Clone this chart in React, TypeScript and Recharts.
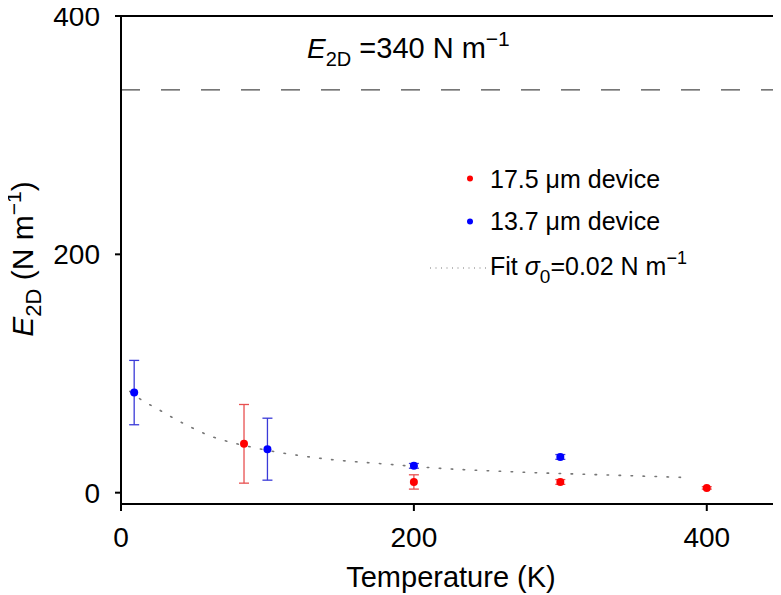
import React from "react"
import {
  ComposedChart,
  Scatter,
  Line,
  XAxis,
  YAxis,
  ErrorBar,
  ReferenceLine,
  Label,
} from "recharts"

const tempRed = [84, 200, 300, 400]
const e2dRed = [41, 9, 9, 4]
const errRed = [33, 6, 2, 1]

const tempBlue = [9, 100, 200, 300]
const e2dBlue = [84, 36.5, 22.5, 30]
const errBlue = [27, 26, 2, 2]

const fitTemp = [6, 15, 24, 33, 42, 51, 60, 70, 92, 107, 120, 135, 186, 211, 268, 341, 389]
const fitE2D = [85, 77, 71, 64.5, 58.5, 53, 48, 44, 37.5, 34, 31.5, 29, 23.5, 21, 17.5, 14.5, 12.6]

const xTicks = [0, 200, 400]
const yTicks = [0, 200, 400]
const theoryE2D = 338

const redData = tempRed.map((t, i) => ({ t, e: e2dRed[i], err: errRed[i] }))
const blueData = tempBlue.map((t, i) => ({ t, e: e2dBlue[i], err: errBlue[i] }))
const fitData = fitTemp.map((t, i) => ({ t, e: fitE2D[i] }))

const FONT = "'Liberation Sans', Arial, Helvetica, sans-serif"

const dot = (color: string) => (p: any) => <circle cx={p.cx} cy={p.cy} r={4} fill={color} />

// legend drawn as an overlay so it does not take room from the plot
function LegendBox() {
  return (
    <svg
      width={330}
      height={135}
      style={{ position: "absolute", left: 420, top: 155, fontFamily: FONT, overflow: "visible" }}
    >
      <circle cx={50} cy={23.5} r={3} fill="#ff0000" />
      <text x={70} y={33} fontSize={25} fill="#000">17.5 μm device</text>
      <circle cx={50} cy={66.5} r={3} fill="#0000ff" />
      <text x={70} y={75} fontSize={25} fill="#000">13.7 μm device</text>
      <line x1={10} x2={66} y1={113} y2={113} stroke="#777" strokeWidth={1.2} strokeDasharray="1 4.5" />
      <text x={70} y={120} fontSize={25} fill="#000">
        Fit <tspan fontStyle="italic">σ</tspan>
        <tspan dy={8} fontSize={19}>0</tspan>
        <tspan dy={-8}>=0.02 N m</tspan>
        <tspan dy={-11} fontSize={18}>−1</tspan>
      </text>
    </svg>
  )
}

export default function App() {
  return (
    <div style={{ position: "relative", marginLeft: -8, marginTop: -8, background: "#fff", width: 781, height: 595 }}>
      <ComposedChart
        width={781}
        height={595}
        margin={{ top: 16, right: 1, bottom: 0, left: 0 }}
        style={{ fontFamily: FONT }}
      >
        <XAxis
          type="number"
          dataKey="t"
          domain={[0, 450]}
          ticks={xTicks}
          height={91}
          tickSize={7}
          tickMargin={16}
          axisLine={{ stroke: "#000", strokeWidth: 2 }}
          tickLine={{ stroke: "#000", strokeWidth: 2 }}
          tick={{ fontSize: 28, fill: "#000" }}
          allowDataOverflow
        >
          <Label
            content={() => (
              <text x={451} y={587} textAnchor="middle" fontSize={29} fill="#000">
                Temperature (K)
              </text>
            )}
          />
        </XAxis>
        <YAxis
          type="number"
          dataKey="e"
          domain={[-9.5, 400]}
          ticks={yTicks}
          width={121}
          tickSize={6}
          tickMargin={15}
          axisLine={{ stroke: "#000", strokeWidth: 2 }}
          tickLine={{ stroke: "#000", strokeWidth: 2 }}
          tick={{ fontSize: 28, fill: "#000" }}
          allowDataOverflow
        >
          <Label
            content={() => (
              <text
                x={33}
                y={259}
                transform="rotate(-90 33 259)"
                textAnchor="middle"
                fontSize={30}
                fill="#000"
              >
                <tspan fontStyle="italic">E</tspan>
                <tspan dy={8} fontSize={22}>2D</tspan>
                <tspan dy={-8}> (N m</tspan>
                <tspan dy={-12} fontSize={21}>−1</tspan>
                <tspan dy={12}>)</tspan>
              </text>
            )}
          />
        </YAxis>
        <ReferenceLine y={400} stroke="#000" strokeWidth={2} />
        <ReferenceLine x={450} stroke="#000" strokeWidth={2} />
        <ReferenceLine
          y={theoryE2D}
          stroke="#4a4a4a"
          strokeWidth={1.2}
          strokeDasharray="19 21"
          label={{
            content: () => (
              <text x={307} y={58} fontSize={28} fill="#000">
                <tspan fontStyle="italic">E</tspan>
                <tspan dy={8} fontSize={20}>2D</tspan>
                <tspan dy={-8} fontSize={29}> =340 N m</tspan>
                <tspan dy={-12} fontSize={21}>−1</tspan>
              </text>
            ),
          }}
        />
        <Line
          data={fitData}
          dataKey="e"
          type="monotone"
          stroke="#777"
          strokeWidth={1.6}
          strokeDasharray="1.5 10.5"
          strokeLinecap="round"
          dot={false}
          activeDot={false}
          isAnimationActive={false}
        />
        <Scatter data={redData} dataKey="e" fill="#ff0000" shape={dot("#ff0000")} isAnimationActive={false}>
          <ErrorBar dataKey="err" direction="y" width={5} stroke="#e85050" strokeWidth={1.3} />
        </Scatter>
        <Scatter data={blueData} dataKey="e" fill="#0000ff" shape={dot("#0000ff")} isAnimationActive={false}>
          <ErrorBar dataKey="err" direction="y" width={5} stroke="#3a3ad8" strokeWidth={1.3} />
        </Scatter>
      </ComposedChart>
      <LegendBox />
    </div>
  )
}
